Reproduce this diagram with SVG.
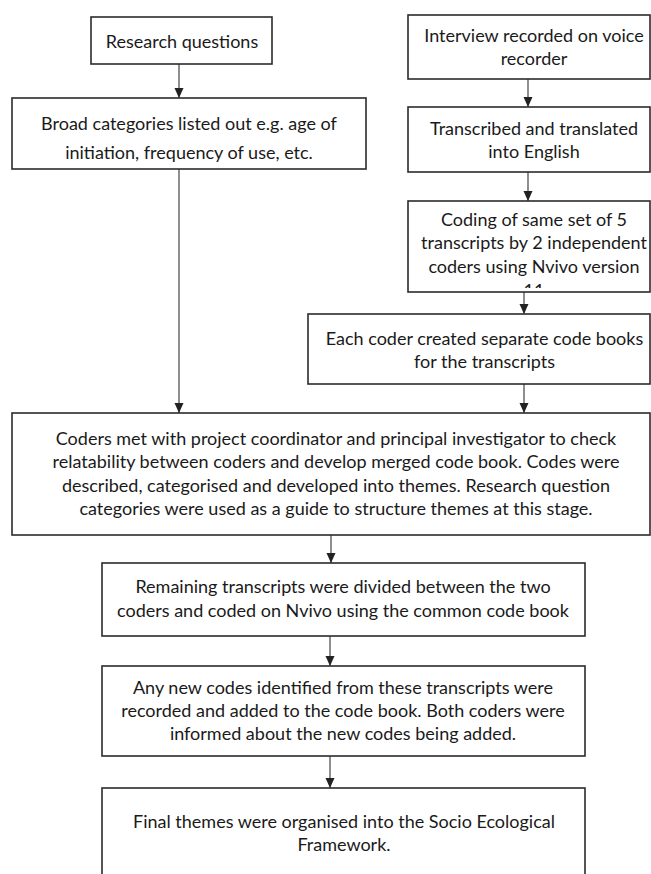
<svg xmlns="http://www.w3.org/2000/svg" width="651" height="874" viewBox="0 0 651 874">
<style>
.box{fill:#fff;stroke:#2b2b2b;stroke-width:1.6}
.t{font-family:Lato,"Liberation Sans",sans-serif;font-size:18px;fill:#1a1a1a;text-anchor:middle}
.c{stroke:#444;stroke-width:1.2;fill:none;marker-end:url(#ah)}
</style>
<defs>
<marker id="ah" markerUnits="userSpaceOnUse" markerWidth="10" markerHeight="10" viewBox="0 0 10 10" refX="10" refY="5" orient="auto">
<path d="M0,0.5 L10,5 L0,9.5 Z" fill="#222"/>
</marker>
<clipPath id="clipCoding"><rect x="408" y="201" width="243" height="87"/></clipPath>
</defs>
<rect width="651" height="874" fill="#fff"/>
<g id="connectors">
<path class="c" d="M179,64 V98"/>
<path class="c" d="M179,169 V413"/>
<path class="c" d="M528,79 V107"/>
<path class="c" d="M528,172 V201"/>
<path class="c" d="M524,292 V314"/>
<path class="c" d="M524,384 V413"/>
<path class="c" d="M331,535 V563"/>
<path class="c" d="M330,636 V666"/>
<path class="c" d="M330,756 V788"/>
</g>
<g id="research">
<rect class="box" x="91" y="17" width="181" height="47"/>
<text class="t" x="182" y="48">Research questions</text>
</g>
<g id="broad">
<rect class="box" x="12" y="98" width="354" height="71"/>
<text class="t" x="189" y="130">Broad categories listed out e.g. age of</text>
<text class="t" x="189" y="159">initiation, frequency of use, etc.</text>
</g>
<g id="interview">
<rect class="box" x="408" y="15" width="242" height="64"/>
<text class="t" x="534" y="42">Interview recorded on voice</text>
<text class="t" x="534" y="65">recorder</text>
</g>
<g id="transcribed">
<rect class="box" x="408" y="107" width="242" height="65"/>
<text class="t" x="534" y="135">Transcribed and translated</text>
<text class="t" x="534" y="158">into English</text>
</g>
<g id="coding">
<rect class="box" x="408" y="201" width="242" height="91"/>
<text class="t" x="534" y="226">Coding of same set of 5</text>
<text class="t" x="534" y="249">transcripts by 2 independent</text>
<text class="t" x="534" y="273">coders using Nvivo version</text>
<text class="t" x="534" y="297" clip-path="url(#clipCoding)">11</text>
</g>
<g id="codebooks">
<rect class="box" x="308" y="314" width="342" height="70"/>
<text class="t" x="484.5" y="345">Each coder created separate code books</text>
<text class="t" x="484.5" y="368">for the transcripts</text>
</g>
<g id="merge">
<rect class="box" x="12" y="413" width="638" height="122"/>
<text class="t" x="336" y="445">Coders met with project coordinator and principal investigator to check</text>
<text class="t" x="336" y="468">relatability between coders and develop merged code book. Codes were</text>
<text class="t" x="336" y="492">described, categorised and developed into themes. Research question</text>
<text class="t" x="336" y="515">categories were used as a guide to structure themes at this stage.</text>
</g>
<g id="remaining">
<rect class="box" x="102" y="563" width="483" height="73"/>
<text class="t" x="343" y="593">Remaining transcripts were divided between the two</text>
<text class="t" x="343" y="617">coders and coded on Nvivo using the common code book</text>
</g>
<g id="newcodes">
<rect class="box" x="102" y="666" width="483" height="90"/>
<text class="t" x="343" y="694">Any new codes identified from these transcripts were</text>
<text class="t" x="343" y="717">recorded and added to the code book. Both coders were</text>
<text class="t" x="343" y="740">informed about the new codes being added.</text>
</g>
<g id="final">
<rect class="box" x="102" y="788" width="483" height="100"/>
<text class="t" x="344" y="828">Final themes were organised into the Socio Ecological</text>
<text class="t" x="344" y="851">Framework.</text>
</g>
</svg>
